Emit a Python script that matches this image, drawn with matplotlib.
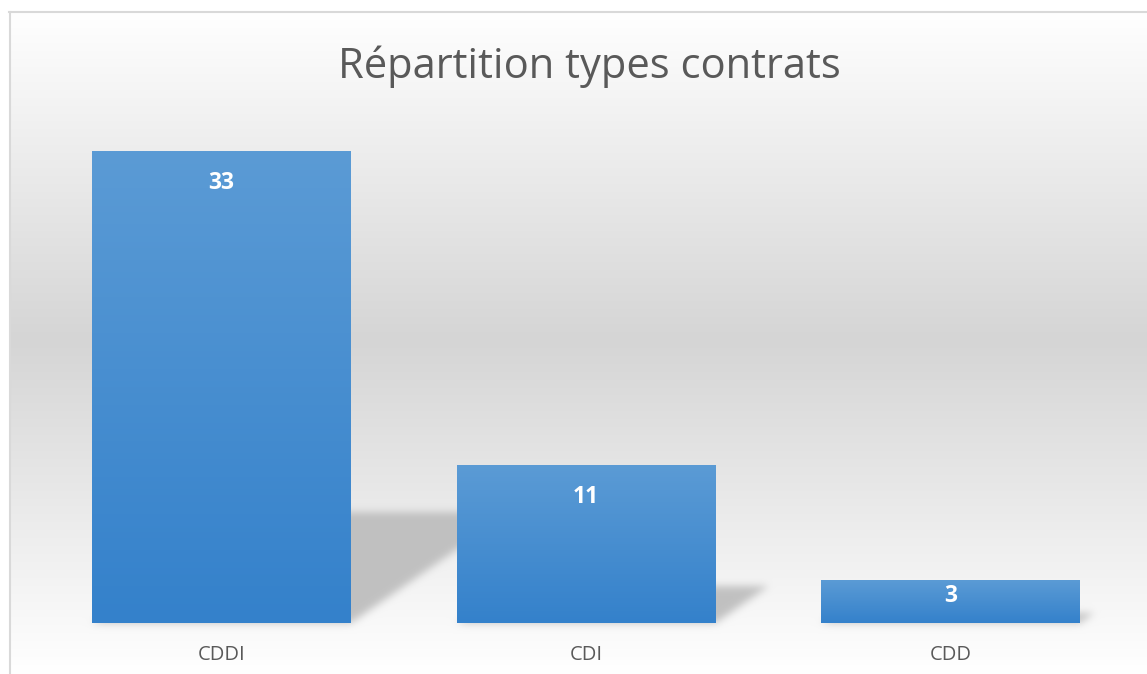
import numpy as np
import matplotlib
matplotlib.use('Agg')
import matplotlib.pyplot as plt
from matplotlib.path import Path

# ---- data ----
categories = ['CDDI', 'CDI', 'CDD']
values = [33, 11, 3]
title = 'Répartition types contrats'

W, H, DPI = 1147, 674, 100
plt.rcParams['font.family'] = ['Open Sans', 'DejaVu Sans']

fig = plt.figure(figsize=(W / DPI, H / DPI), dpi=DPI)
fig.patch.set_facecolor('white')

bg = fig.add_axes([0, 0, 1, 1], zorder=0)
bg.set_axis_off()

ax = fig.add_axes([39.25 / W, (H - 623) / H, 1093.5 / W, 513.9 / H], zorder=1)
ax.patch.set_alpha(0)
x = np.arange(len(categories))
bars = ax.bar(x, values, width=0.71, color='none', edgecolor='none', zorder=2)
ax.set_xlim(-0.5, len(categories) - 0.5)
ax.set_ylim(0, 36)
for s in ax.spines.values():
    s.set_visible(False)
ax.set_yticks([])
ax.set_xticks(x, categories)
ax.tick_params(axis='x', length=0, pad=16, labelsize=14.5, labelcolor='#595959')

# ---- background gradient + perspective shadows (raster) ----
yy, xx = np.mgrid[0:H, 0:W]  # row 0 = bottom (display coords)
ytop = H - (yy + 0.5)
gray = np.interp(ytop, [12, 340, 665], [255, 213, 254])

mask = np.zeros((H, W))
pts = np.column_stack([(xx + 0.5).ravel(), (yy + 0.5).ravel()])
for p in bars.patches:
    x0, w, h = p.get_x(), p.get_width(), p.get_height()
    a = ax.transData.transform((x0, 0))
    b = ax.transData.transform((x0 + w, 0))
    t = ax.transData.transform((x0, h))
    hpx = t[1] - a[1]
    dx, dy = 0.34 * hpx, 0.236 * hpx
    poly = Path([(a[0], a[1]), (b[0], b[1]), (b[0] + dx, b[1] + dy),
                 (a[0] + dx, a[1] + dy), (a[0], a[1])])
    mask = np.maximum(mask, poly.contains_points(pts).reshape(H, W).astype(float))

def blur(arr, sigma):
    r = int(3 * sigma)
    k = np.exp(-0.5 * (np.arange(-r, r + 1) / sigma) ** 2)
    k /= k.sum()
    arr = np.apply_along_axis(lambda m: np.convolve(m, k, mode='same'), 0, arr)
    arr = np.apply_along_axis(lambda m: np.convolve(m, k, mode='same'), 1, arr)
    return arr

mask = blur(mask, 4.0)
shade = gray * (1 - 0.95 * mask) + 190 * 0.95 * mask
inside = (ytop > 12) & ((xx + 0.5) > 10.5)
img = np.where(inside, shade, 255.0) / 255.0
bg.imshow(np.dstack([img, img, img]), extent=[0, W, 0, H], origin='lower',
          aspect='auto', interpolation='nearest')
bg.plot([9.6, 9.6], [0, H - 11.6], color='#d9d9d9', lw=1.5)
bg.plot([9.0, W], [H - 11.6, H - 11.6], color='#d9d9d9', lw=1.5)
bg.set_xlim(0, W)
bg.set_ylim(0, H)

# ---- gradient bars ----
top_c = np.array([91, 155, 213]) / 255.0
bot_c = np.array([52, 129, 203]) / 255.0
n = 256
tgrad = np.linspace(0, 1, n)[:, None]  # 0 = top
grad = top_c[None, :] * (1 - tgrad) + bot_c[None, :] * tgrad
grad = grad[:, None, :]
for p in bars.patches:
    x0, w, h = p.get_x(), p.get_width(), p.get_height()
    ax.imshow(grad, extent=[x0, x0 + w, 0, h], origin='upper', aspect='auto',
              zorder=2, interpolation='bilinear')
ax.set_xlim(-0.5, len(categories) - 0.5)
ax.set_ylim(0, 36)

# ---- value labels ----
for p, v in zip(bars.patches, values):
    cx = p.get_x() + p.get_width() / 2
    hpx = ax.transData.transform((0, v))[1] - ax.transData.transform((0, 0))[1]
    off_px = min(31, 0.37 * hpx)
    ax.annotate(str(v), (cx, v), xytext=(0, -off_px * 72 / DPI),
                textcoords='offset points', ha='center', va='center',
                color='white', fontweight='bold', fontsize=16.5, zorder=3)

fig.text(589 / W, 1 - 78 / H, title, ha='center', va='baseline',
         fontsize=30, color='#595959')

fig.savefig('out.png', dpi=DPI)
